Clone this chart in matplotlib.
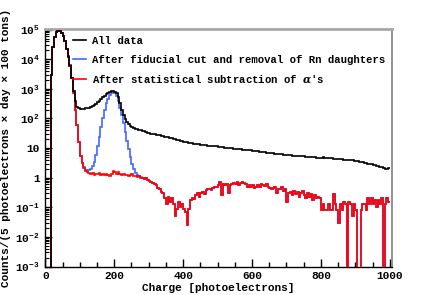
import numpy as np
import matplotlib
matplotlib.use("Agg")
import matplotlib.pyplot as plt
from matplotlib.lines import Line2D
from matplotlib.ticker import MultipleLocator, FixedLocator

# ---------------- data (5 p.e. bins from 0 to 1000) ----------------
bin_width = 5
charge_min, charge_max = 0, 1000

all_data = [
    0, 0, 0, 3000, 26000, 57000, 82000, 92000, 90000, 78000,
    62000, 40000, 22000, 12000, 6000, 2300, 850, 380, 250, 222,
    214, 212, 214, 218, 224, 232, 245, 262, 285, 315,
    350, 395, 450, 515, 590, 670, 750, 810, 845, 850,
    810, 700, 520, 340, 200, 130, 95, 75, 63, 56,
    51, 48, 45, 43, 41, 39.5, 38, 36.5, 35, 33.5,
    32, 31, 30, 29.5, 28.5, 27.5, 27, 26, 25.5, 24.5,
    23.5, 23, 22, 21.5, 20.5, 20, 19, 18.5, 18, 17,
    16.5, 16, 15.5, 15, 14.8, 14.5, 14, 13.7, 13.5, 13.2,
    13, 12.8, 12.6, 12.4, 12.2, 12, 11.8, 11.7, 11.5, 11.3,
    11.1, 10.9, 10.7, 10.6, 10.4, 10.2, 10.0, 9.9, 9.8, 9.6,
    9.5, 9.3, 9.2, 9.1, 8.9, 8.8, 8.7, 8.6, 8.4, 8.3,
    8.1, 8.0, 7.8, 7.7, 7.6, 7.4, 7.3, 7.2, 7.0, 6.9,
    6.8, 6.7, 6.6, 6.5, 6.4, 6.3, 6.2, 6.1, 6.0, 5.9,
    5.8, 5.75, 5.7, 5.6, 5.55, 5.5, 5.4, 5.35, 5.3, 5.25,
    5.2, 5.1, 5.05, 5.0, 4.95, 4.9, 4.85, 4.8, 4.75, 4.7,
    4.8, 4.95, 4.7, 4.6, 4.55, 4.5, 4.45, 4.4, 4.35, 4.3,
    4.25, 4.2, 4.15, 4.1, 4.0, 4.05, 3.95, 3.9, 3.85, 3.75,
    3.7, 3.6, 3.5, 3.4, 3.3, 3.2, 3.1, 3.0, 2.95, 2.85,
    2.75, 2.65, 2.55, 2.45, 2.35, 2.25, 2.15, 2.0, 1.9, 2.05,
]

alpha_subtracted = [
    0, 0, 0, 3000, 26000, 57000, 82000, 92000, 90000, 78000,
    62000, 40000, 22000, 12500, 6300, 2400, 700, 200, 60, 16,
    5.5, 3.2, 2.2, 1.7, 1.5, 1.4, 1.3, 1.45, 1.25, 1.35,
    1.3, 1.4, 1.25, 1.3, 1.2, 1.35, 1.25, 1.15, 1.3, 1.7,
    1.55, 1.35, 1.5, 1.3, 1.2, 1.35, 1.2, 1.25, 1.15, 1.2,
    1.3, 1.15, 1.1, 1.05, 1.1, 0.95, 1.0, 0.9, 0.95, 0.85,
    0.8, 0.72, 0.65, 0.6, 0.55, 0.45, 0.4, 0.33, 0.3, 0.2,
    0.13, 0.22, 0.15, 0.2, 0.13, 0.05, 0.09, 0.15, 0.1, 0.13,
    0.09, 0.07, 0.025, 0.09, 0.17, 0.2, 0.19, 0.25, 0.3, 0.22,
    0.3, 0.32, 0.28, 0.38, 0.4, 0.42, 0.38, 0.45, 0.5, 0.48,
    0.55, 0.7, 0.25, 0.6, 0.55, 0.62, 0.3, 0.58, 0.6, 0.68,
    0.62, 0.7, 0.58, 0.65, 0.72, 0.68, 0.6, 0.5, 0.56, 0.48,
    0.55, 0.45, 0.5, 0.55, 0.5, 0.6, 0.55, 0.52, 0.62, 0.5,
    0.46, 0.42, 0.45, 0.5, 0.3, 0.42, 0.4, 0.5, 0.36, 0.4,
    0.15, 0.3, 0.33, 0.26, 0.35, 0.28, 0.32, 0.22, 0.3, 0.35,
    0.25, 0.2, 0.3, 0.22, 0.28, 0.18, 0.25, 0.2, 0.22, 0.2,
    0.08, 0.13, 0.08, 0.08, 0.13, 0.08, 0.08, 0.28, 0.13, 0.08,
    0.03, 0.13, 0.08, 0.15, 0.13, 0, 0.15, 0.13, 0.05, 0.13,
    0.08, 0, 0, 0.08, 0.13, 0.13, 0.08, 0.2, 0.13, 0.2,
    0.13, 0.18, 0.1, 0.18, 0.13, 0.2, 0, 0.13, 0.2, 0.15,
]

# fiducial-cut spectrum: equal to the alpha-subtracted one except around the Po peak
fiducial_peak_start = 22   # first bin index (110 p.e.)
fiducial_peak = [
    2.3, 1.8, 1.7, 1.8, 1.9, 2.4, 3.5, 6, 12, 24,
    50, 100, 190, 320, 460, 600, 740, 790, 700, 560,
    400, 230, 130, 70, 35, 17, 9, 5, 3, 1.9,
    1.4, 1.25, 1.15, 1.05,
]

legend_labels = [
    "All data",
    "After fiducial cut and removal of Rn daughters",
    "After statistical subtraction of $\\alpha$'s",
]
x_label = "Charge [photoelectrons]"
y_label = "Counts/(5 photoelectrons \u00d7 day \u00d7 100 tons)"
x_ticks = [0, 200, 400, 600, 800, 1000]
y_ticks = [1e-3, 1e-2, 1e-1, 1, 10, 1e2, 1e3, 1e4, 1e5]
y_tick_labels = ["$\\mathbf{10^{-3}}$", "$\\mathbf{10^{-2}}$", "$\\mathbf{10^{-1}}$",
                 "1", "10", "$\\mathbf{10^{2}}$", "$\\mathbf{10^{3}}$",
                 "$\\mathbf{10^{4}}$", "$\\mathbf{10^{5}}$"]

# ---------------- build ----------------
edges = np.arange(charge_min, charge_max + bin_width, bin_width)
black = np.array(all_data, dtype=float)
red = np.array(alpha_subtracted, dtype=float)
blue = red.copy()
blue[fiducial_peak_start:fiducial_peak_start + len(fiducial_peak)] = fiducial_peak

def floor_zero(v):
    return np.where(v > 0, v, 1e-9)

plt.rcParams['font.family'] = ['Liberation Mono', 'DejaVu Sans']
plt.rcParams['font.weight'] = 'bold'
plt.rcParams['mathtext.fontset'] = 'custom'
plt.rcParams['mathtext.rm'] = 'Liberation Mono:bold'
plt.rcParams['mathtext.bf'] = 'Liberation Mono:bold'
plt.rcParams['mathtext.it'] = 'DejaVu Serif:italic'

fig = plt.figure(figsize=(4.36, 2.95), dpi=100)
ax = fig.add_axes([45 / 436, 1 - 266.5 / 295, 346.5 / 436, 237.5 / 295])

c_black, c_blue, c_red = "#000000", "#4466ff", "#ff0000"
lw = 1.2
ax.stairs(floor_zero(blue), edges, baseline=None, color=c_blue, lw=lw, zorder=2)
ax.stairs(floor_zero(red), edges, baseline=None, color=c_red, lw=lw, zorder=3)
ax.stairs(floor_zero(black), edges, baseline=None, color=c_black, lw=lw, zorder=4)

ax.set_yscale('log')
ax.set_xlim(-1, 1005)
ax.set_ylim(1e-3, 1.05e5)

ax.xaxis.set_major_locator(FixedLocator(x_ticks))
ax.xaxis.set_minor_locator(MultipleLocator(50))
ax.set_xticklabels([str(t) for t in x_ticks])
ax.set_yticks(y_ticks)
ax.set_yticklabels(y_tick_labels)
minor_y = [m * 10.0 ** e for e in range(-3, 5) for m in range(2, 10)]
ax.yaxis.set_minor_locator(FixedLocator(minor_y))
ax.yaxis.set_minor_formatter(plt.NullFormatter())

ax.tick_params(axis='both', which='both', direction='in', top=False, right=False,
               labelsize=8, colors='black')
ax.tick_params(axis='x', which='major', length=6, width=1, pad=3)
ax.tick_params(axis='x', which='minor', length=3.5, width=1)
ax.tick_params(axis='y', which='major', length=5, width=1, pad=4)
ax.tick_params(axis='y', which='minor', length=3, width=0.8)
for lab in ax.get_xticklabels() + ax.get_yticklabels():
    lab.set_fontweight('bold')

ax.spines['left'].set_color('black')
ax.spines['bottom'].set_color('black')
ax.spines['left'].set_linewidth(1.0)
ax.spines['bottom'].set_linewidth(1.0)
ax.spines['top'].set_color('#a8a8a8')
ax.spines['top'].set_linewidth(2.0)
ax.spines['right'].set_color('#808080')
ax.spines['right'].set_linewidth(1.2)

ax.set_xlabel(x_label, fontsize=8, fontweight='bold', labelpad=2)
ax.set_ylabel(y_label, fontsize=8, fontweight='bold', labelpad=3)

handles = [Line2D([], [], color=c, lw=lw) for c in (c_black, c_blue, c_red)]
ax.legend(handles, legend_labels, loc='upper left', bbox_to_anchor=(0.08, 0.972),
          frameon=False, fontsize=7.7, handlelength=1.2, handletextpad=0.6,
          labelspacing=0.85, borderpad=0, borderaxespad=0,
          prop={'family': ['Liberation Mono', 'DejaVu Sans'], 'weight': 'bold', 'size': 7.7})

fig.savefig("out.png", dpi=100)
